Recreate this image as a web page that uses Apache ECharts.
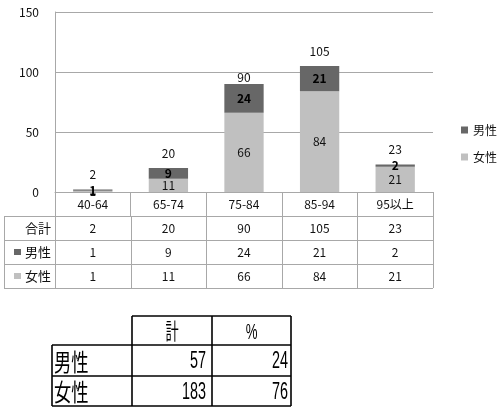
<!DOCTYPE html>
<html>
<head>
<meta charset="utf-8">
<script src="https://cdn.jsdelivr.net/npm/echarts@6/dist/echarts.min.js"></script>
<style>
  html, body { margin: 0; padding: 0; background: #fff; }
  #chart { width: 500px; height: 408px; }
</style>
</head>
<body>
<div id="chart"></div>
<script>
// Age groups and patient counts by sex
const categories = ['40-64', '65-74', '75-84', '85-94', '95以上'];
const maleValues = [1, 9, 24, 21, 2];
const femaleValues = [1, 11, 66, 84, 21];
const totalValues = [2, 20, 90, 105, 23];
const yTicks = [0, 50, 100, 150];

// Data table row headers
const rowLabels = ['合計', '男性', '女性'];

// Summary table
const summaryLabels = ['男性', '女性'];
const summaryHeaders = ['計', '%'];
const summaryTotals = [57, 183];
const summaryPercents = [24, 76];

const MALE = '#676767';
const FEMALE = '#c0c0c0';
const GRID_LINE = '#a8a8a8';
const TEXT = '#111';
const FONT = '"Noto Sans CJK JP", "DejaVu Sans", sans-serif';

const chart = echarts.init(document.getElementById('chart'), null, { renderer: 'canvas' });

chart.setOption({
  animation: false,
  backgroundColor: '#fff',
  textStyle: { fontFamily: FONT },
  grid: { left: 55, top: 12, width: 378, height: 180, containLabel: false },
  legend: {
    data: ['男性', '女性'],
    orient: 'vertical',
    left: 456,
    top: 119,
    itemWidth: 7,
    itemHeight: 7,
    itemGap: 15,
    itemTextGap: 4,
    icon: 'rect',
    selectedMode: false,
    textStyle: { fontSize: 12, color: TEXT, fontFamily: FONT }
  },
  xAxis: {
    type: 'category',
    data: categories,
    axisLine: { lineStyle: { color: GRID_LINE, width: 1 } },
    axisTick: { show: true, length: 24, interval: 0, lineStyle: { color: GRID_LINE } },
    axisLabel: { interval: 0, margin: 6, fontSize: 12, color: TEXT, fontFamily: FONT }
  },
  yAxis: {
    type: 'value',
    min: yTicks[0],
    max: yTicks[yTicks.length - 1],
    interval: yTicks[1] - yTicks[0],
    axisLine: { show: true, lineStyle: { color: GRID_LINE } },
    axisTick: { show: false },
    splitLine: { lineStyle: { color: GRID_LINE, width: 1 } },
    axisLabel: { margin: 16, fontSize: 12, color: TEXT, fontFamily: FONT }
  },
  series: [
    {
      name: '女性',
      type: 'bar',
      stack: 'sex',
      barWidth: '52%',
      data: femaleValues,
      itemStyle: { color: FEMALE },
      label: { show: true, position: 'inside', fontSize: 12, color: TEXT, fontFamily: FONT }
    },
    {
      name: '男性',
      type: 'bar',
      stack: 'sex',
      barWidth: '52%',
      data: maleValues,
      itemStyle: { color: MALE },
      label: { show: true, position: 'inside', fontSize: 12, fontWeight: 'bold', color: '#000', fontFamily: FONT }
    },
    {
      name: '合計',
      type: 'scatter',
      symbolSize: 0,
      silent: true,
      itemStyle: { opacity: 1, color: 'transparent' },
      // the 75-84 total sits close to its bar
      data: totalValues.map((v, i) => (categories[i] === '75-84'
        ? { value: v, label: { distance: 1 } }
        : v)),
      label: { show: true, position: 'top', distance: 9, fontSize: 12, color: TEXT, opacity: 1, fontFamily: FONT }
    }
  ]
});

// Data table under the plot, aligned to the category axis
function buildTables() {
  const centers = categories.map((c, i) => chart.convertToPixel({ xAxisIndex: 0 }, i));
  const band = centers[1] - centers[0];
  const bounds = centers.map(c => c - band / 2).concat([centers[centers.length - 1] + band / 2]);
  const axisY = chart.convertToPixel({ yAxisIndex: 0 }, 0);
  const rowH = 24;
  const tableTop = axisY + 24;
  const tableLeft = 4;
  const right = bounds[bounds.length - 1];
  const els = [];
  const px = v => Math.round(v) + 0.5;

  const hLine = (x1, x2, y, color, w) => els.push({
    type: 'line', silent: true,
    shape: { x1: x1, y1: y, x2: x2, y2: y },
    style: { stroke: color, lineWidth: w }
  });
  const vLine = (x, y1, y2, color, w) => els.push({
    type: 'line', silent: true,
    shape: { x1: x, y1: y1, x2: x, y2: y2 },
    style: { stroke: color, lineWidth: w }
  });
  const text = (str, x, y, opts) => els.push(Object.assign({
    type: 'text', silent: true, x: x, y: y,
    style: Object.assign({
      text: String(str), fill: TEXT, font: '12px ' + FONT,
      align: 'center', verticalAlign: 'middle'
    }, opts && opts.style)
  }, opts && opts.el));

  for (let r = 0; r <= rowLabels.length; r++) {
    hLine(tableLeft, right, px(tableTop + r * rowH), GRID_LINE, 1);
  }
  vLine(px(tableLeft), tableTop, tableTop + rowLabels.length * rowH, GRID_LINE, 1);
  bounds.forEach(b => vLine(px(b), tableTop, tableTop + rowLabels.length * rowH, GRID_LINE, 1));

  const rows = [totalValues, maleValues, femaleValues];
  const swatch = [null, MALE, FEMALE];
  const labelRight = bounds[0] - 4;
  rows.forEach((vals, r) => {
    const cy = tableTop + r * rowH + rowH / 2;
    text(rowLabels[r], labelRight, cy, { style: { align: 'right', font: '13px ' + FONT } });
    if (swatch[r]) {
      els.push({
        type: 'rect', silent: true,
        shape: { x: labelRight - 37, y: Math.round(cy) - 3, width: 7, height: 6 },
        style: { fill: swatch[r] }
      });
    }
    vals.forEach((v, i) => text(v, centers[i], cy));
  });

  // Summary table by sex
  const sx = [52, 132, 212, 291];
  const sy = [316, 345, 376, 406];
  const ink = '#000';
  hLine(sx[1], sx[3], sy[0], ink, 1.6);
  for (let r = 1; r < sy.length; r++) hLine(sx[0], sx[3], sy[r], ink, 1.6);
  vLine(sx[0], sy[1], sy[3], ink, 1.6);
  for (let c = 1; c < sx.length; c++) vLine(sx[c], sy[0], sy[3], ink, 1.6);

  const narrow = 0.6;
  summaryHeaders.forEach((h, c) => text(h, (sx[c + 1] + sx[c + 2]) / 2, (sy[0] + sy[1]) / 2 + 2, {
    style: { font: '22px "Liberation Sans", ' + FONT, fill: ink },
    el: { scaleX: narrow }
  }));
  summaryLabels.forEach((lab, r) => {
    const cy = (sy[r + 1] + sy[r + 2]) / 2 + 1;
    text(lab, sx[0] + 2, cy, {
      style: { align: 'left', font: '24px ' + FONT, fill: ink },
      el: { scaleX: 0.72 }
    });
    text(summaryTotals[r], sx[2] - 6, cy, {
      style: { align: 'right', font: '24px "Liberation Sans", sans-serif', fill: ink },
      el: { scaleX: narrow }
    });
    text(summaryPercents[r], sx[3] - 3, cy, {
      style: { align: 'right', font: '24px "Liberation Sans", sans-serif', fill: ink },
      el: { scaleX: narrow }
    });
  });

  chart.setOption({ graphic: { elements: els } });
}

buildTables();
</script>
</body>
</html>
